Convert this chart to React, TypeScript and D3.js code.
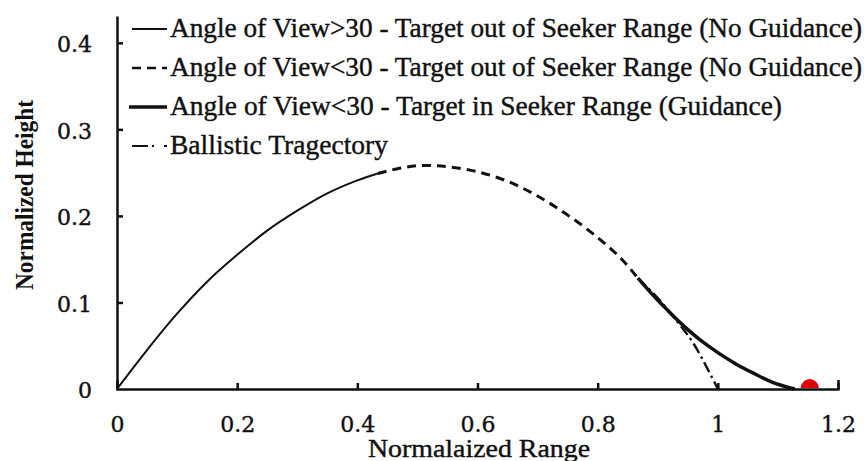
import React, { useEffect, useRef } from 'react';
import * as d3 from 'd3';

// thin solid: angle of view > 30, no guidance
const steepX = [0, 0.05, 0.1, 0.15, 0.2, 0.25, 0.3, 0.35, 0.4, 0.434];
const steepY = [0, 0.045, 0.087, 0.124, 0.155, 0.183, 0.206, 0.226, 0.241, 0.249];

// dashed: angle of view < 30, target out of range
const outX = [0.434, 0.47, 0.5, 0.53, 0.56, 0.6, 0.65, 0.7, 0.75, 0.8, 0.84, 0.867];
const outY = [0.249, 0.255, 0.258, 0.258, 0.256, 0.251, 0.24, 0.223, 0.201, 0.175, 0.15, 0.128];

// thick solid: target in seeker range (guidance)
const guideX = [0.867, 0.89, 0.915, 0.94, 0.97, 1.0, 1.03, 1.06, 1.09, 1.128];
const guideY = [0.128, 0.11, 0.092, 0.075, 0.057, 0.042, 0.029, 0.018, 0.008, 0];

// dash-dot: ballistic
const ballX = [0.867, 0.9, 0.93, 0.96, 1.0];
const ballY = [0.128, 0.105, 0.08, 0.052, 0];

const targetX = 1.153;

const xTicks = [0, 0.2, 0.4, 0.6, 0.8, 1, 1.2];
const yTicks = [0, 0.1, 0.2, 0.3, 0.4];

const legendLabels = [
  'Angle of View>30 - Target out of Seeker Range (No Guidance)',
  'Angle of View<30 - Target out of Seeker Range (No Guidance)',
  'Angle of View<30 - Target in Seeker Range (Guidance)',
  'Ballistic Tragectory',
];

const W = 864, H = 461;

export default function App() {
  const ref = useRef<SVGSVGElement>(null);

  useEffect(() => {
    const svg = d3.select(ref.current);
    svg.selectAll('*').remove();

    const x = d3.scaleLinear().domain([0, 1.2]).range([117, 838]);
    const y = d3.scaleLinear().domain([0, 0.431]).range([389, 16]);

    const line = d3.line<[number, number]>()
      .x(d => x(d[0]))
      .y(d => y(d[1]))
      .curve(d3.curveCatmullRom.alpha(0.5));

    const pairs = (xs: number[], ys: number[]) => xs.map((v, i) => [v, ys[i]] as [number, number]);
    const fmt = (d: any) => String(d);

    // x axis, ticks pointing up
    const gx = svg.append('g').attr('transform', `translate(0,${y(0)})`)
      .call(d3.axisBottom(x).tickValues(xTicks).tickFormat(fmt).tickSize(-6).tickSizeOuter(-9).tickPadding(27));
    gx.select('.domain').attr('stroke', '#111').attr('stroke-width', 2.5);
    gx.selectAll('.tick line').attr('stroke', '#111').attr('stroke-width', 2.5);
    gx.selectAll('.tick text')
      .attr('font-family', 'DejaVu Serif').attr('font-size', 22).attr('fill', '#111')
      .attr('stroke', '#111').attr('stroke-width', 0.4);

    // y axis, ticks pointing right
    const gy = svg.append('g').attr('transform', `translate(${x(0)},0)`)
      .call(d3.axisLeft(y).tickValues(yTicks).tickFormat(fmt).tickSize(-6).tickSizeOuter(0).tickPadding(25));
    gy.select('.domain').attr('stroke', '#111').attr('stroke-width', 2.5);
    gy.selectAll('.tick line').attr('stroke', '#111').attr('stroke-width', 2.5);
    gy.selectAll('.tick text')
      .attr('font-family', 'DejaVu Serif').attr('font-size', 22).attr('fill', '#111')
      .attr('stroke', '#111').attr('stroke-width', 0.4).attr('dy', '0.4em');
    svg.selectAll('.domain').attr('fill', 'none');
    svg.selectAll('.tick').filter((d: any) => d === 0).select('line').remove();

    // curves
    svg.append('path').attr('d', line(pairs(steepX, steepY)))
      .attr('fill', 'none').attr('stroke', '#111').attr('stroke-width', 2);
    svg.append('path').attr('d', line(pairs(outX, outY)))
      .attr('fill', 'none').attr('stroke', '#111').attr('stroke-width', 3)
      .attr('stroke-dasharray', '9,6');
    svg.append('path').attr('d', line(pairs(ballX, ballY)))
      .attr('fill', 'none').attr('stroke', '#111').attr('stroke-width', 2.4)
      .attr('stroke-dasharray', '11,4,2.5,4');
    svg.append('path').attr('d', line(pairs(guideX, guideY)))
      .attr('fill', 'none').attr('stroke', '#111').attr('stroke-width', 3.5);

    // target
    const arc = d3.arc()({ innerRadius: 0, outerRadius: 9, startAngle: -Math.PI / 2, endAngle: Math.PI / 2 } as any);
    svg.append('path').attr('d', arc)
      .attr('transform', `translate(${x(targetX)},${y(0) - 1})`)
      .attr('fill', '#e00000');

    // legend
    const rowY = [37, 76, 115, 154];
    const rowLen = [692, 692, 612, 218];
    const lg = svg.append('g');
    const sym = [
      { dash: null, w: 2, x1: 132 },
      { dash: '9,6', w: 2.5, x1: 132 },
      { dash: null, w: 3.5, x1: 129 },
      { dash: '16,4,2,10', w: 2.2, x1: 132 },
    ];
    legendLabels.forEach((t, i) => {
      lg.append('line')
        .attr('x1', sym[i].x1).attr('x2', 167)
        .attr('y1', rowY[i] - 8).attr('y2', rowY[i] - 8)
        .attr('stroke', '#111').attr('stroke-width', sym[i].w)
        .attr('stroke-dasharray', sym[i].dash);
      lg.append('text')
        .attr('x', 170).attr('y', rowY[i])
        .attr('font-family', 'Liberation Serif').attr('font-size', 27).attr('fill', '#111')
        .attr('stroke', '#111').attr('stroke-width', 0.4)
        .attr('textLength', rowLen[i]).attr('lengthAdjust', 'spacingAndGlyphs')
        .text(t);
    });

    // axis titles
    svg.append('text')
      .attr('x', 368).attr('y', 457)
      .attr('font-family', 'Liberation Serif').attr('font-size', 25).attr('fill', '#111')
      .attr('stroke', '#111').attr('stroke-width', 0.4)
      .attr('textLength', 222).attr('lengthAdjust', 'spacingAndGlyphs')
      .text('Normalaized Range');
    svg.append('text')
      .attr('transform', 'translate(33,290) rotate(-90)')
      .attr('font-family', 'Liberation Serif').attr('font-size', 25).attr('font-weight', 'bold')
      .attr('fill', '#111')
      .attr('textLength', 190).attr('lengthAdjust', 'spacingAndGlyphs')
      .text('Normalized Height');
  }, []);

  return (
    <svg ref={ref} width={W} height={H}
      style={{ position: 'absolute', left: 0, top: 0, background: '#fff', display: 'block' }} />
  );
}
